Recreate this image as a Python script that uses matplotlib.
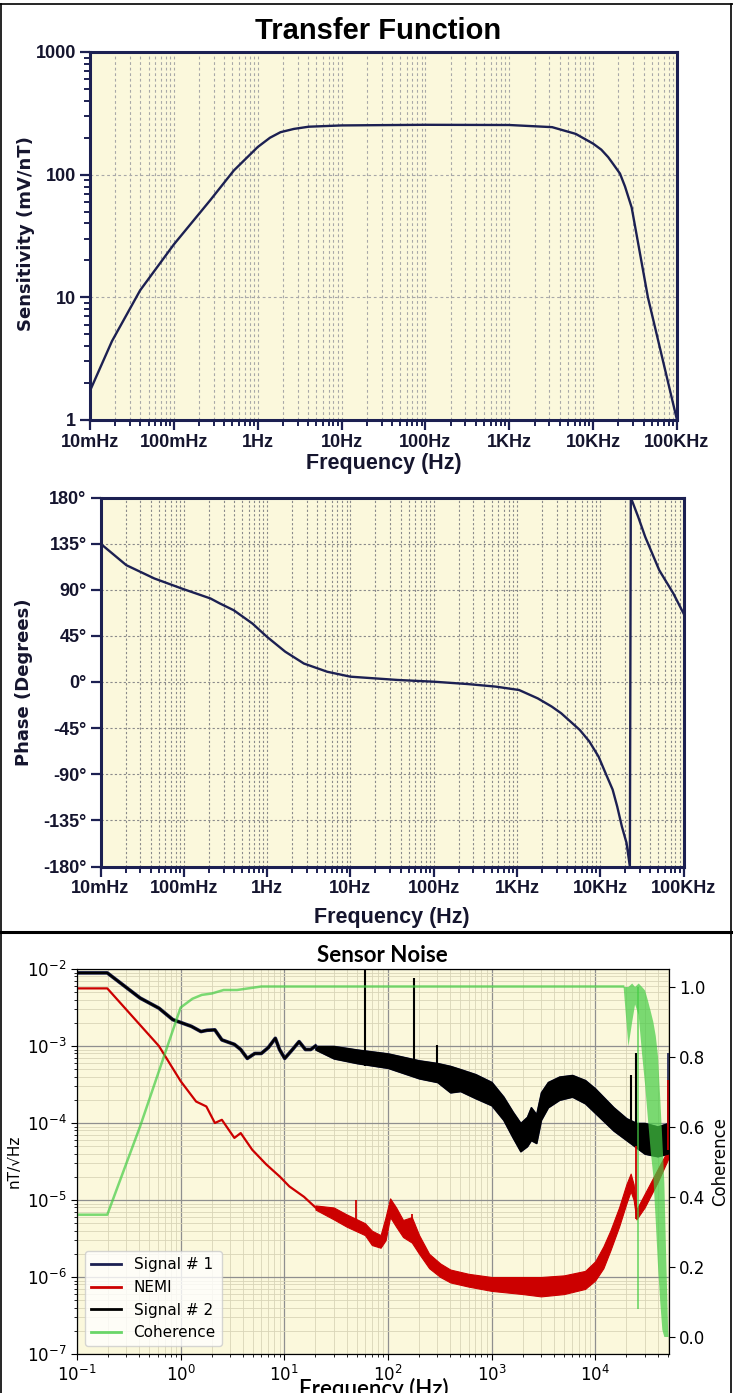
import numpy as np
import matplotlib.pyplot as plt
from matplotlib.lines import Line2D
from matplotlib.ticker import LogLocator, NullFormatter

"""Colours"""
NAVY = '#1c2052'
CREAM = '#fbf8dc'
RED = '#cc0000'
GREEN = '#44cc44'

"""Data read off the picture"""
# transfer function, magnitude
tf_freq = [0.01, 0.0183, 0.0396, 0.1, 0.272, 0.518, 1.0, 1.4, 1.87, 2.7, 4.05, 10,
           100, 1000, 3240, 6200, 10000, 12500, 15100, 17500, 20900, 24000, 28800,
           45000, 100000]
tf_sens = [1.73, 4.4, 11.4, 27, 62, 108, 168, 200, 222, 236, 246, 252,
           255, 254, 244, 215, 179, 160, 139, 121, 102, 80, 54, 10, 1.0]

# transfer function, phase
ph_freq = [0.01, 0.0204, 0.0443, 0.096, 0.209, 0.27, 0.398, 0.668, 1.0, 1.65, 2.77,
           5.28, 10, 36.7, 100, 256, 556, 1060, 1780, 2620, 3400, 5690, 7400, 9550,
           11600, 14100, 16000, 18200, 20700, 22700, 23300, 28600, 34700, 51200,
           75500, 100000]
ph_deg = [135, 114, 101, 91, 81.5, 76.7, 70, 57, 44, 29.6, 18,
          10, 5.2, 2, 0.3, -2, -4.5, -7.8, -16, -24, -30.5, -46.8, -58, -72.8,
          -89, -105, -121.5, -141, -157, -180, 180, 161, 141.6, 109,
          86.4, 67]

freq_ticks = [0.01, 0.1, 1, 10, 100, 1e3, 1e4, 1e5]
freq_labels = ['10mHz', '100mHz', '1Hz', '10Hz', '100Hz', '1KHz', '10KHz', '100KHz']
sens_ticks = [1, 10, 100, 1000]
sens_labels = ['1', '10', '100', '1000']
phase_ticks = [-180, -135, -90, -45, 0, 45, 90, 135, 180]
phase_labels = ['-180°', '-135°', '-90°', '-45°', '0°', '45°', '90°', '135°', '180°']

# sensor noise: smooth low frequency part
sig2_freq = [0.1, 0.196, 0.406, 0.617, 0.84, 1.27, 1.57, 1.8, 2.14, 2.5, 3.3, 3.8, 4.4,
             5.2, 6.0, 7.0, 8.2, 9.0, 10.1, 12, 13.9, 16, 18, 20]
sig2_val = [0.0089, 0.0089, 0.0042, 0.0031, 0.0022, 0.0018, 0.00154, 0.0016, 0.00162,
            0.0012, 0.00105, 0.0009, 0.00069, 0.0008, 0.0008, 0.00095, 0.00126, 0.0009,
            0.00069, 0.0009, 0.00114, 0.0009, 0.0009, 0.001]
nemi_freq = [0.1, 0.196, 0.617, 1.0, 1.41, 1.77, 2.14, 2.5, 3.3, 3.8, 4.9, 6.7, 9.1,
             11.2, 15.5, 20]
nemi_val = [0.0056, 0.0056, 0.001, 0.00035, 0.00019, 0.000164, 0.0001, 0.00011, 6.4e-5,
            7.4e-5, 4.5e-5, 2.9e-5, 2.0e-5, 1.5e-5, 1.1e-5, 8e-6]
coh_freq = [0.1, 0.196, 0.406, 1.0, 1.3, 1.6, 2.0, 2.6, 3.5, 6.0, 18600]
coh_val = [0.348, 0.348, 0.6, 0.94, 0.965, 0.976, 0.98, 0.99, 0.99, 1.0, 1.0]

# sensor noise: noisy part as envelopes (low, high)
sig2_band_f = [20, 30, 50, 100, 200, 300, 400, 500, 700, 1000, 1300, 1600, 1900, 2200,
               2400, 2700, 3000, 3500, 4500, 6000, 8000, 10000, 15000, 20000, 25000,
               30000, 40000, 50500]
sig2_band_hi = [1.0e-3, 1.0e-3, 9.0e-4, 8.0e-4, 6.5e-4, 6.0e-4, 5.5e-4, 5.0e-4, 4.3e-4,
                3.4e-4, 2.2e-4, 1.4e-4, 1.0e-4, 1.2e-4, 1.6e-4, 1.3e-4, 2.5e-4, 3.4e-4,
                4.0e-4, 4.2e-4, 3.6e-4, 2.8e-4, 1.6e-4, 1.15e-4, 1.0e-4, 1.0e-4, 9e-5,
                1.0e-4]
sig2_band_lo = [9.0e-4, 6.9e-4, 6.0e-4, 5.2e-4, 3.8e-4, 3.4e-4, 2.5e-4, 2.6e-4, 2.1e-4,
                1.7e-4, 1.1e-4, 6.5e-5, 4.3e-5, 5e-5, 6e-5, 5.5e-5, 1.1e-4, 1.6e-4,
                2.0e-4, 2.2e-4, 1.8e-4, 1.35e-4, 8e-5, 6e-5, 4.8e-5, 4.0e-5, 3.7e-5,
                4.0e-5]
nemi_band_f = [20, 30, 40, 60, 70, 85, 95, 105, 120, 140, 170, 200, 250, 320, 400, 600,
               1000, 2000, 3000, 5000, 8000, 10000, 12000, 14000, 17000, 20000, 22000,
               23500, 25000, 30000, 40000, 50500]
nemi_band_hi = [8.5e-6, 8e-6, 6.5e-6, 5e-6, 4e-6, 3.5e-6, 6e-6, 1.05e-5, 8e-6, 5.5e-6,
                6e-6, 3.5e-6, 2e-6, 1.5e-6, 1.25e-6, 1.1e-6, 1.0e-6, 1.0e-6, 1.0e-6,
                1.05e-6, 1.2e-6, 1.6e-6, 2.5e-6, 4e-6, 8e-6, 1.6e-5, 2.2e-5, 1.6e-5,
                7.5e-6, 1.2e-5, 2.5e-5, 4.5e-5]
nemi_band_lo = [7.5e-6, 5.6e-6, 4.5e-6, 3.5e-6, 2.6e-6, 2.4e-6, 3e-6, 6e-6, 4.5e-6, 3.3e-6,
                2.8e-6, 2e-6, 1.3e-6, 1.0e-6, 8.5e-7, 7.5e-7, 6.6e-7, 6.0e-7, 5.6e-7,
                6.0e-7, 7.0e-7, 9e-7, 1.3e-6, 2.2e-6, 4.5e-6, 9e-6, 1.3e-5, 1.0e-5,
                5.6e-6, 8e-6, 1.7e-5, 3.4e-5]
coh_band_f = [18600, 20700, 22500, 24000, 26000, 28000, 30000, 32000, 34000, 36000,
              38000, 40000, 42000, 44000, 46000, 48000, 50000, 50500]
coh_band_hi = [1.0, 1.0, 1.01, 1.0, 1.01, 1.0, 0.99, 0.96, 0.93, 0.9, 0.86, 0.8, 0.68,
               0.56, 0.44, 0.22, 0.02, 0.0]
coh_band_lo = [1.0, 0.83, 0.9, 0.95, 0.92, 0.81, 0.72, 0.62, 0.53, 0.46, 0.33, 0.2, 0.1,
               0.02, 0.0, 0.0, 0.0, 0.0]

# narrow spikes
sig2_spike_f = [60, 180, 300, 22000, 25000]
sig2_spike_lo = [5.5e-4, 4e-4, 3.5e-4, 8e-5, 5e-5]
sig2_spike_hi = [1e-2, 7.6e-3, 1.03e-3, 4.2e-4, 8e-4]
nemi_spike_f = [49, 170, 25000, 50500]
nemi_spike_lo = [4e-6, 3e-6, 5.6e-6, 4.5e-5]
nemi_spike_hi = [1.0e-5, 6.5e-6, 6e-5, 3.6e-4]
sig1_spike_f = [50500]
sig1_spike_lo = [9e-5]
sig1_spike_hi = [8e-4]
coh_spike_f = [25700]
coh_spike_lo = [0.08]
coh_spike_hi = [1.0]


"""Functions"""
def style_bode(ax, xlab_y):
    ax.set_facecolor(CREAM)
    ax.set_xscale('log')
    ax.set_xlim(0.01, 1e5)
    ax.set_xticks(freq_ticks)
    ax.set_xticklabels(freq_labels)
    ax.xaxis.set_minor_locator(LogLocator(base=10, subs=np.arange(2, 10)))
    ax.xaxis.set_minor_formatter(NullFormatter())
    for s in ax.spines.values():
        s.set_color(NAVY)
        s.set_linewidth(2.2)
    ax.tick_params(which='major', direction='out', length=7, width=1.6, color=NAVY,
                   labelsize=13, pad=3, labelcolor='#15152e')
    ax.tick_params(which='minor', direction='out', length=4, width=1.4, color=NAVY)
    ax.tick_params(axis='y', which='both', right=False)
    for lab in ax.get_xticklabels() + ax.get_yticklabels():
        lab.set_fontweight('bold')
        lab.set_family('Liberation Sans')
    pos = ax.get_position()
    fig.text((pos.x0 + pos.x1) / 2, 1 - xlab_y / 1393, 'Frequency (Hz)', ha='center',
             va='center', fontsize=15.5, fontweight='bold', family='Liberation Sans',
             color='#15152e')


"""Figure"""
fig = plt.figure(figsize=(7.33, 13.93), dpi=100)

# frame lines
fig.add_artist(Line2D([0.0015, 0.0015], [0, 0.997], transform=fig.transFigure, color='k', lw=1.2))
fig.add_artist(Line2D([0.997, 0.997], [0, 0.997], transform=fig.transFigure, color='k', lw=1.2))
fig.add_artist(Line2D([0, 1], [0.997, 0.997], transform=fig.transFigure, color='k', lw=1.2))
fig.add_artist(Line2D([0, 1], [1 - 932 / 1393, 1 - 932 / 1393], transform=fig.transFigure,
                      color='k', lw=2.2))

# panel 1: sensitivity
ax1 = fig.add_axes([90 / 733, 1 - 420 / 1393, 587 / 733, 368 / 1393])
ax1.plot(tf_freq, tf_sens, color=NAVY, lw=1.7, zorder=3)
ax1.set_yscale('log')
ax1.set_ylim(1, 1000)
ax1.set_yticks(sens_ticks)
ax1.set_yticklabels(sens_labels)
ax1.yaxis.set_minor_locator(LogLocator(base=10, subs=np.arange(2, 10)))
ax1.yaxis.set_minor_formatter(NullFormatter())
style_bode(ax1, 463)
ax1.grid(True, which='both', axis='x', ls=(0, (2.5, 2.5)), color='#a8a8a8', lw=0.8)
ax1.grid(True, which='major', axis='y', ls=(0, (2.5, 2.5)), color='#a8a8a8', lw=0.8)
fig.text(378 / 733, 1 - 31 / 1393, 'Transfer Function', ha='center', va='center',
         fontsize=21, fontweight='bold', family='Liberation Sans')
fig.text(26 / 733, 1 - 234 / 1393, 'Sensitivity (mV/nT)', ha='center', va='center',
         rotation=90, fontsize=13, fontweight='bold', family='DejaVu Sans', color='#15152e')

# panel 2: phase
ax2 = fig.add_axes([100.5 / 733, 1 - 866.5 / 1393, 583 / 733, 369 / 1393])
ax2.plot(ph_freq, ph_deg, color=NAVY, lw=1.7, zorder=3)
ax2.set_ylim(-180, 180)
ax2.set_yticks(phase_ticks)
ax2.set_yticklabels(phase_labels)
style_bode(ax2, 918)
ax2.grid(True, which='both', axis='x', ls=(0, (2, 2)), color='#8a8a8a', lw=0.8)
ax2.grid(True, which='major', axis='y', ls=(0, (2, 2)), color='#8a8a8a', lw=0.8)
fig.text(24 / 733, 1 - 682 / 1393, 'Phase (Degrees)', ha='center', va='center',
         rotation=90, fontsize=13, fontweight='bold', family='DejaVu Sans', color='#15152e')

# panel 3: sensor noise
ax3 = fig.add_axes([77 / 733, 1 - 1354 / 1393, 591.5 / 733, 385 / 1393])
ax3.set_facecolor(CREAM)
ax3.set_xscale('log')
ax3.set_yscale('log')
ax3.plot(sig2_freq, sig2_val, color=NAVY, lw=2.6)
ax3.fill_between(sig2_band_f, sig2_band_lo, sig2_band_hi, color=NAVY, lw=1.2)
ax3.vlines(sig1_spike_f, sig1_spike_lo, sig1_spike_hi, color=NAVY, lw=1.2)
ax3.plot(nemi_freq, nemi_val, color=RED, lw=1.6)
ax3.fill_between(nemi_band_f, nemi_band_lo, nemi_band_hi, color=RED, lw=0.8)
ax3.vlines(nemi_spike_f, nemi_spike_lo, nemi_spike_hi, color=RED, lw=1.3)
ax3.plot(sig2_freq, sig2_val, color='k', lw=1.6)
ax3.fill_between(sig2_band_f, sig2_band_lo, sig2_band_hi, color='k', lw=0.8)
ax3.vlines(sig2_spike_f, sig2_spike_lo, sig2_spike_hi, color='k', lw=1.5)
ax3.set_xlim(0.1, 5.1e4)
ax3.set_ylim(1e-7, 1e-2)
ax3.grid(True, which='major', color='#8f8f8f', lw=0.9)
ax3.grid(True, which='minor', color='#d9d5b8', lw=0.6)
ax3.set_axisbelow(True)
ax3.tick_params(which='major', labelsize=12, length=4)
ax3.tick_params(which='minor', length=2.5)
ax3.set_ylabel('nT/√Hz', fontsize=11, labelpad=4)

ax3c = ax3.twinx()
ax3c.plot(coh_freq, coh_val, color=GREEN, alpha=0.7, lw=1.8)
ax3c.fill_between(coh_band_f, coh_band_lo, coh_band_hi, color=GREEN, alpha=0.7, lw=0)
ax3c.vlines(coh_spike_f, coh_spike_lo, coh_spike_hi, color=GREEN, alpha=0.7, lw=1.3)
ax3c.set_ylim(-0.05, 1.05)
ax3c.set_xlim(0.1, 5.1e4)
ax3c.tick_params(labelsize=12, length=4)
ax3c.set_ylabel('Coherence', fontsize=12, labelpad=4)

handles = [Line2D([], [], color=NAVY, lw=2), Line2D([], [], color=RED, lw=2),
           Line2D([], [], color='k', lw=2), Line2D([], [], color=GREEN, alpha=0.8, lw=2)]
ax3c.legend(handles, ['Signal # 1', 'NEMI', 'Signal # 2', 'Coherence'], loc='lower left',
            fontsize=11, framealpha=0.8)

fig.text(382 / 733, 1 - 955 / 1393, 'Sensor Noise', ha='center', va='center',
         fontsize=16, fontweight='bold', family='Lato')
fig.text(374 / 733, 1 - 1378 / 1393, 'Frequency (Hz)', ha='center', va='top',
         fontsize=16, family='Lato', fontweight='semibold')

fig.savefig('out.png', dpi=100)
print("end of script")
